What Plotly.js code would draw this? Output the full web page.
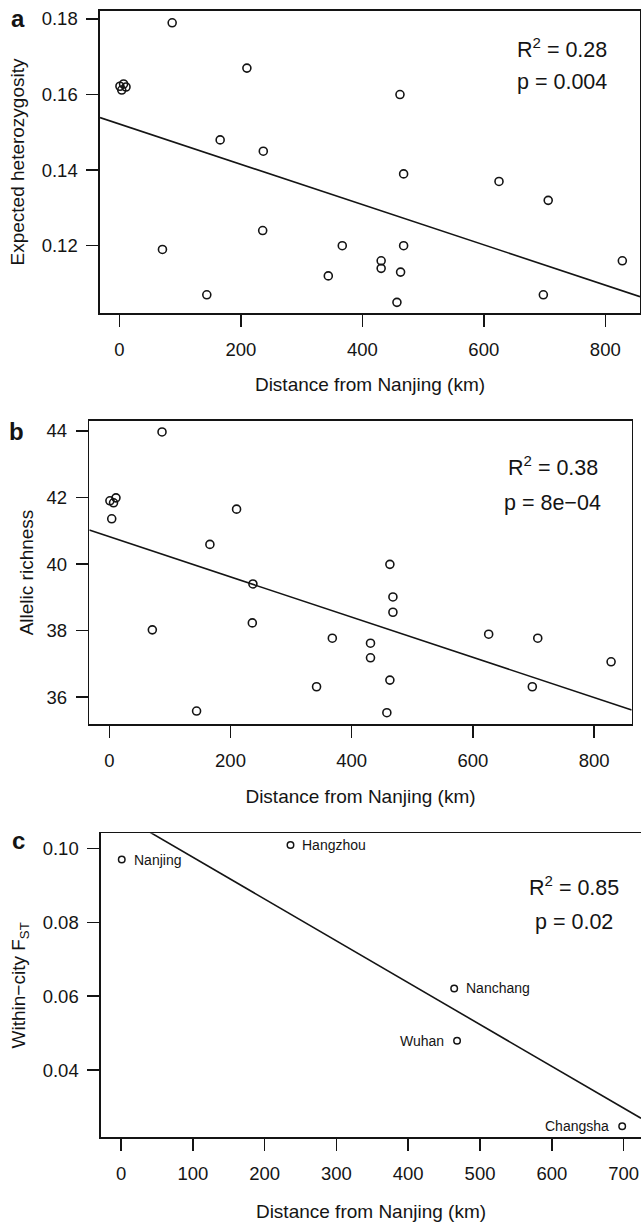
<!DOCTYPE html>
<html>
<head>
<meta charset="utf-8">
<script src="https://cdn.plot.ly/plotly-3.0.1.min.js"></script>
<style>html,body{margin:0;padding:0;background:#fff;}#chart{width:641px;height:1222px;}</style>
</head>
<body>
<div id="chart"></div>
<script>
// ---- Panel a: expected heterozygosity vs distance ----
const distA = [87, 1, 4, 7, 11, 210, 166, 237, 236, 71, 144, 344, 367, 431, 431, 457, 462, 463, 468, 468, 625, 698, 706, 828];
const hetA  = [0.179, 0.1622, 0.1612, 0.1628, 0.1620, 0.167, 0.148, 0.145, 0.124, 0.119, 0.107, 0.112, 0.120, 0.116, 0.114, 0.105, 0.160, 0.113, 0.139, 0.120, 0.137, 0.107, 0.132, 0.116];
const fitA = {intercept: 0.1522, slope: -5.33e-5};
const statsA = ["R<sup>2</sup> = 0.28", "p = 0.004"];

// ---- Panel b: allelic richness vs distance ----
const distB = [87, 1, 4, 7, 11, 210, 166, 237, 236, 71, 144, 342, 368, 431, 431, 458, 463, 463, 468, 468, 626, 698, 707, 828];
const arB   = [43.97, 41.90, 41.36, 41.84, 41.99, 41.65, 40.59, 39.40, 38.23, 38.02, 35.58, 36.31, 37.77, 37.62, 37.18, 35.53, 39.99, 36.51, 39.01, 38.55, 37.89, 36.31, 37.77, 37.06];
const fitB = {intercept: 40.82, slope: -0.006045};
const statsB = ["R<sup>2</sup> = 0.38", "p = 8e\u221204"];

// ---- Panel c: within-city FST vs distance ----
const cities = ["Nanjing", "Hangzhou", "Nanchang", "Wuhan", "Changsha"];
const distC  = [1, 236, 464, 468, 698];
const fstC   = [0.0970, 0.1009, 0.0621, 0.0479, 0.0248];
const labelSide = ["right", "right", "right", "left", "left"];
const fitC = {intercept: 0.10895, slope: -1.1325e-4};
const statsC = ["R<sup>2</sup> = 0.85", "p = 0.02"];

const xTitle = "Distance from Nanjing (km)";
const yTitles = ["Expected heterozygosity", "Allelic richness", "Within\u2212city F<sub>ST</sub>"];
const panelLetters = ["a", "b", "c"];

// ---- layout geometry (pixels) ----
const W = 641, H = 1222;
const FONT = "Liberation Sans, Arial, Helvetica, sans-serif";
const INK = "#141414";
const px = v => v / W;
const py = v => 1 - v / H;

const ranges = {
  a: {x: [-31.8, 857.1], y: [0.1021, 0.1822]},
  b: {x: [-33, 862], y: [35.19, 44.30]},
  c: {x: [-27.9, 724.2], y: [0.02179, 0.1041]}
};

function lineTrace(fit, xr, xa, ya) {
  const xs = [xr[0], xr[1]];
  return {x: xs, y: xs.map(v => fit.intercept + fit.slope * v), mode: "lines",
          line: {color: INK, width: 1.6}, xaxis: xa, yaxis: ya, hoverinfo: "skip"};
}
function ptsTrace(xs, ys, xa, ya, size, lw) {
  return {x: xs, y: ys, mode: "markers", xaxis: xa, yaxis: ya,
          marker: {symbol: "circle-open", size: size, color: INK, line: {width: lw, color: INK}}};
}

const data = [
  ptsTrace(distA, hetA, "x", "y", 8, 1.6),
  lineTrace(fitA, ranges.a.x, "x", "y"),
  ptsTrace(distB, arB, "x2", "y2", 8, 1.6),
  lineTrace(fitB, ranges.b.x, "x2", "y2"),
  ptsTrace(distC, fstC, "x3", "y3", 6.5, 1.5),
  lineTrace(fitC, ranges.c.x, "x3", "y3")
];

const tickFont = {family: FONT, size: 18.5, color: INK};
const titleFont = {family: FONT, size: 19, color: INK};

function xAxis(domain, range, anchor, dtick, tmax, standoff, mirror) {
  const vals = []; for (let v = 0; v <= tmax; v += dtick) vals.push(v);
  return {domain: domain, range: range, anchor: anchor, tickvals: vals,
          ticks: "outside", ticklen: 12, tickwidth: 1.5, tickcolor: INK,
          showline: true, linewidth: 1.6, linecolor: INK, mirror: mirror,
          showgrid: false, zeroline: false, tickfont: tickFont, ticklabelstandoff: 7,
          title: {text: xTitle, font: titleFont, standoff: standoff}};
}
function yAxis(domain, range, anchor, vals, fmt, title, standoff, mirror) {
  return {domain: domain, range: range, anchor: anchor, tickvals: vals, tickformat: fmt,
          ticks: "outside", ticklen: 12, tickwidth: 1.5, tickcolor: INK,
          showline: true, linewidth: 1.6, linecolor: INK, mirror: mirror,
          showgrid: false, zeroline: false, tickfont: tickFont, ticklabelstandoff: 5,
          title: {text: title, font: titleFont, standoff: standoff}};
}

const annotations = [];
// panel letters
[[18, 18], [16.7, 431.7], [18.3, 840]].forEach((p, i) => {
  annotations.push({xref: "paper", yref: "paper", x: px(p[0]), y: py(p[1]), text: "<b>" + panelLetters[i] + "</b>",
    showarrow: false, xanchor: "center", yanchor: "middle", font: {family: FONT, size: 24, color: INK}});
});
// statistics
function stats(lines, xd, yd, xa, ya) {
  lines.forEach((t, i) => annotations.push({xref: xa + " domain", yref: ya + " domain", x: xd, y: yd[i], text: t,
    showarrow: false, xanchor: "center", yanchor: "middle", font: {family: FONT, size: 21.5, color: INK}}));
}
stats(statsA, 0.8556, [0.878, 0.7654], "x", "y");
stats(statsB, 0.854, [0.850, 0.7284], "x2", "y2");
stats(statsC, 0.876, [0.827, 0.709], "x3", "y3");
// city labels
cities.forEach((c, i) => {
  const right = labelSide[i] === "right";
  annotations.push({xref: "x3", yref: "y3", x: distC[i], y: fstC[i], text: c, showarrow: false,
    xanchor: right ? "left" : "right", yanchor: "middle", xshift: right ? 10 : -11,
    font: {family: FONT, size: 14, color: INK}});
});

const layout = {
  width: W, height: H, margin: {l: 0, r: 0, t: 0, b: 0},
  paper_bgcolor: "#fff", plot_bgcolor: "#fff", showlegend: false,
  font: {family: FONT, color: INK},
  xaxis:  xAxis([px(100), px(640)], ranges.a.x, "y", 200, 800, 18, true),
  yaxis:  yAxis([py(313.3), py(10.7)], ranges.a.y, "x", [0.12, 0.14, 0.16, 0.18], ".2f", yTitles[0], 12, true),
  xaxis2: xAxis([px(89.3), px(631.7)], ranges.b.x, "y2", 200, 800, 20, true),
  yaxis2: yAxis([py(724), py(421)], ranges.b.y, "x2", [36, 38, 40, 42, 44], "d", yTitles[1], 8, true),
  xaxis3: xAxis([px(101), 1], ranges.c.x, "y3", 100, 700, 26, true),
  yaxis3: yAxis([py(1137.3), py(833.3)], ranges.c.y, "x3", [0.04, 0.06, 0.08, 0.10], ".2f", yTitles[2], 12, false),
  annotations: annotations
};

Plotly.newPlot("chart", data, layout, {displayModeBar: false, staticPlot: true});
</script>
</body>
</html>
